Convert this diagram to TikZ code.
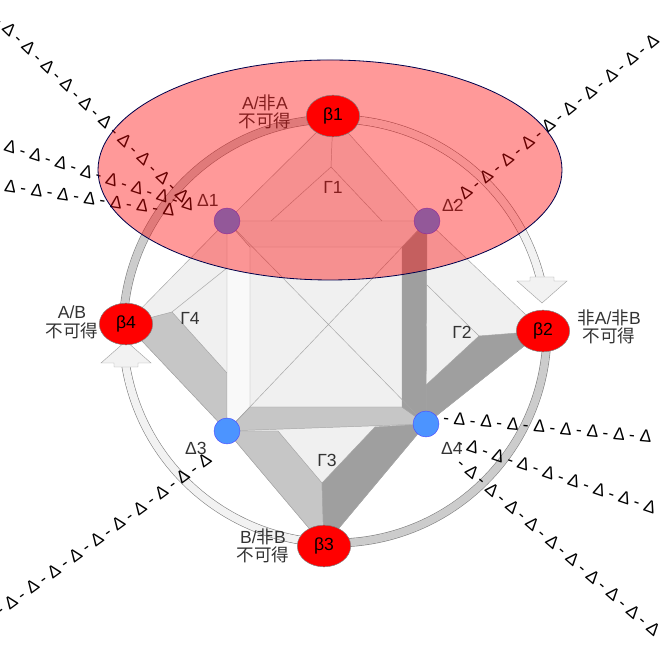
\documentclass[tikz,border=0pt]{standalone}
\usepackage{fontspec}
\setmainfont{Liberation Sans}
\newfontfamily\cjk{Noto Sans CJK SC}
\usetikzlibrary{shapes.geometric,decorations.markings}
\begin{document}
\begin{tikzpicture}[x=0.03cm, y=0.03cm]
        \tikzstyle{beta} = [ellipse, fill=red, draw=gray, minimum width=1.6cm, minimum height=1.25cm, inner sep=1pt, font=\fontsize{15}{16}\selectfont]
        \tikzstyle{dot} = [circle, draw=blue!70, fill=blue!60!cyan!70, minimum size=.78cm, inner sep=0]
        \tikzstyle{lbl} = [font=\fontsize{15}{16}\selectfont, align=center, text=black!80, inner sep=1pt]
        \tikzstyle{face} = [draw=gray!70, line width=.4]
        \tikzstyle{band} = [draw=gray, double distance=6.5pt, line width=.5]
        \tikzstyle{deltaline} = [postaction={decorate, decoration={markings, mark=between positions 0.03 and 1 step .8cm with {\node[transform shape, font=\fontsize{15}{15}\selectfont] {- Δ};}}}]
        \useasboundingbox (0,0) rectangle (666,653);
        % points
        \coordinate (i1) at (250,406); \coordinate (i2) at (402,406);
        \coordinate (i3) at (402,246); \coordinate (i4) at (250,246);
        \coordinate (g1) at (331,486); \coordinate (g2) at (479,317);
        \coordinate (g3) at (322,170); \coordinate (g4) at (172,341);
        \coordinate (b1) at (333,537); \coordinate (b2) at (543,322);
        \coordinate (b3) at (324,107); \coordinate (b4) at (126,329);
        \coordinate (d1) at (227,432); \coordinate (d2) at (427,432);
        \coordinate (d3) at (227,222); \coordinate (d4) at (426,229);
        % arcs round the figure
        \draw[band, double=gray!40] (335,534) arc[start angle=90, end angle=180, radius=212];
        \draw[band, double=gray!10] (335,534) arc[start angle=90, end angle=14, radius=212];
        \draw[band, double=gray!40] (547,322) arc[start angle=0, end angle=-90, radius=212];
        \draw[band, double=gray!10] (335,110) arc[start angle=-90, end angle=-172, radius=212];
        \draw[face, fill=gray!10] (542,350) -- (517,372) -- (530,372) -- (530,376) -- (554,376) -- (554,372) -- (567,372) -- cycle;
        \draw[face, fill=gray!10] (126,312) -- (101,290) -- (114,290) -- (114,286) -- (138,286) -- (138,290) -- (151,290) -- cycle;
        % faces
        \draw[face, fill=gray!12] (b1) -- (d2) -- (b2) -- (d4) -- (b3) -- (d3) -- (b4) -- (d1) -- cycle;
        \draw[face, fill=gray!45] (b4) -- (g4) -- (227,280) -- (d3) -- cycle;
        \draw[face, fill=gray!45] (d3) -- (278,222) -- (g3) -- (b3) -- cycle;
        \draw[face, fill=gray!75] (b3) -- (g3) -- (375,226) -- (d4) -- cycle;
        \draw[face, fill=gray!75] (d4) -- (426,268) -- (g2) -- (b2) -- cycle;
        \draw[face, fill=gray!5] (d1) -- (i1) -- (i4) -- (d3) -- cycle;
        \draw[face, fill=gray!45] (d3) -- (d4) -- (i3) -- (i4) -- cycle;
        \draw[face, fill=gray!75] (d2) -- (d4) -- (i3) -- (i2) -- cycle;
        \draw[face, fill=gray!15] (d1) -- (d2) -- (i2) -- (i1) -- cycle;
        \draw[face] (b1) -- (g1) (271,432) -- (g1) -- (382,432);
        \draw[face] (g4) -- (227,385) (g2) -- (427,368);
        \draw[face] (d1) -- (d4) (d2) -- (d3);
        % dashed delta lines
        \path[deltaline] (0,633) -- (190,450);
        \path[deltaline] (0,510) -- (185,450);
        \path[deltaline] (0,468) -- (178,442);
        \path[deltaline] (455,452) -- (666,623);
        \path[deltaline] (448,235) -- (666,215);
        \path[deltaline] (462,210) -- (666,141);
        \path[deltaline] (462,190) -- (666,13);
        \path[deltaline] (0,43) -- (212,198);
        % vertices
        \node[dot] (delta1) at (d1) {};
        \node[dot] (delta2) at (d2) {};
        \node[dot] (delta3) at (d3) {};
        \node[dot] (delta4) at (d4) {};
        \node[lbl] (gamma1) at (333,466) {Γ1};
        \node[lbl] (gamma2) at (462,321) {Γ2};
        \node[lbl] (gamma3) at (327,193) {Γ3};
        \node[lbl] (gamma4) at (190,335) {Γ4};
        \node[lbl] (ldelta1) at (208,453) {Δ1};
        \node[lbl] (ldelta2) at (453,448) {Δ2};
        \node[lbl] (ldelta3) at (196,205) {Δ3};
        \node[lbl] (ldelta4) at (452,205) {Δ4};
        \node[lbl] (lab1) at (265,541) {A/{\cjk 非}A\\{\cjk 不可得}};
        \node[lbl] (lab2) at (72,331) {A/B\\{\cjk 不可得}};
        \node[lbl] (lab3) at (609,326) {{\cjk 非}A/{\cjk 非}B\\{\cjk 不可得}};
        \node[lbl] (lab4) at (263,107) {B/{\cjk 非}B\\{\cjk 不可得}};
        % red disc
        \draw[draw=blue!30!black, fill=red, fill opacity=.4, line width=.7] (330,483) ellipse [x radius=232, y radius=110];
        \node[beta] (beta1) at (b1) {β1};
        \node[beta] (beta2) at (b2) {β2};
        \node[beta] (beta3) at (b3) {β3};
        \node[beta] (beta4) at (b4) {β4};
    \end{tikzpicture}
\end{document}
